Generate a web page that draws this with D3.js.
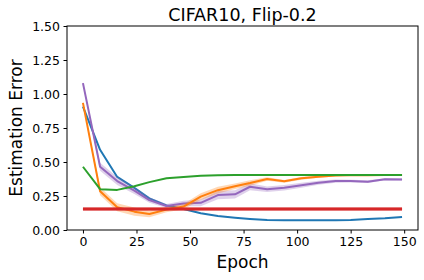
<!DOCTYPE html>
<html>
<head>
<meta charset="utf-8">
<script src="https://cdn.jsdelivr.net/npm/d3@7"></script>
<style>
  body { margin: 0; background: #fff; }
  text { font-family: "DejaVu Sans", sans-serif; fill: #000; }
</style>
</head>
<body>
<svg id="j-svg" width="424" height="280" viewBox="0 0 424 280"></svg>
<script>
'use strict';

var epochs = [0, 8, 16, 24, 31, 39, 47, 55, 63, 71, 78, 86, 94, 102, 110, 118, 125, 133, 141, 149];

var blueVals = [0.907, 0.59, 0.39, 0.31, 0.233, 0.18, 0.154, 0.123, 0.103, 0.09, 0.081, 0.073, 0.072, 0.072, 0.072, 0.072, 0.073, 0.08, 0.086, 0.095];
var orangeVals = [0.935, 0.285, 0.167, 0.135, 0.118, 0.15, 0.172, 0.245, 0.293, 0.322, 0.345, 0.375, 0.358, 0.38, 0.392, 0.40, 0.403, 0.403, 0.404, 0.404];
var greenVals = [0.465, 0.30, 0.295, 0.322, 0.352, 0.38, 0.39, 0.398, 0.402, 0.404, 0.405, 0.405, 0.405, 0.405, 0.405, 0.405, 0.405, 0.405, 0.405, 0.405];
var redVals = [0.155, 0.155, 0.155, 0.155, 0.155, 0.155, 0.155, 0.155, 0.155, 0.155, 0.155, 0.155, 0.155, 0.155, 0.155, 0.155, 0.155, 0.155, 0.155, 0.155];
var purpleVals = [1.08, 0.465, 0.36, 0.29, 0.22, 0.176, 0.195, 0.20, 0.257, 0.262, 0.318, 0.30, 0.311, 0.329, 0.348, 0.36, 0.36, 0.355, 0.373, 0.372];

// spread (std) drawn as light bands
var orangeStd = [0.01, 0.03, 0.03, 0.03, 0.025, 0.02, 0.02, 0.025, 0.025, 0.02, 0.02, 0.012, 0.01, 0.01, 0.008, 0.006, 0.005, 0.005, 0.005, 0.005];
var purpleStd = [0.01, 0.03, 0.03, 0.025, 0.02, 0.015, 0.02, 0.025, 0.03, 0.03, 0.025, 0.02, 0.02, 0.018, 0.015, 0.012, 0.01, 0.01, 0.008, 0.008];
var redStd = [0.013, 0.013, 0.013, 0.013, 0.013, 0.013, 0.013, 0.013, 0.013, 0.013, 0.013, 0.013, 0.013, 0.013, 0.013, 0.013, 0.013, 0.013, 0.013, 0.013];

var xTicks = [0, 25, 50, 75, 100, 125, 150];
var yTicks = [0, 0.25, 0.5, 0.75, 1.0, 1.25, 1.5];

var series = [
  { vals: blueVals, std: null, color: '#1f77b4', w: 2 },
  { vals: purpleVals, std: purpleStd, color: '#9467bd', w: 2 },
  { vals: orangeVals, std: orangeStd, color: '#ff7f0e', w: 2 },
  { vals: greenVals, std: null, color: '#2ca02c', w: 2 },
  { vals: redVals, std: redStd, color: '#d62728', w: 3 }
];

var svg = d3.select('#j-svg');
var margins = { top: 26, right: 6, bottom: 50, left: 67 };
var width = 424 - margins.left - margins.right;
var height = 280 - margins.top - margins.bottom;

var g = svg.append('g').attr('transform', 'translate(' + margins.left + ',' + margins.top + ')');

var x = d3.scaleLinear().domain([-7.45, 156.45]).range([0, width]);
var y = d3.scaleLinear().domain([0, 1.5]).range([height, 0]);

var clip = svg.append('defs').append('clipPath').attr('id', 'plot-clip');
clip.append('rect').attr('width', width).attr('height', height);

var plot = g.append('g').attr('clip-path', 'url(#plot-clip)');

series.forEach(function (s) {
  if (s.std) {
    var area = d3.area()
      .x(function (d, i) { return x(epochs[i]); })
      .y0(function (d, i) { return y(d - s.std[i]); })
      .y1(function (d, i) { return y(d + s.std[i]); });
    plot.append('path').attr('d', area(s.vals))
      .attr('fill', s.color).attr('fill-opacity', 0.3);
  }
  var line = d3.line()
    .x(function (d, i) { return x(epochs[i]); })
    .y(function (d) { return y(d); });
  plot.append('path').attr('d', line(s.vals))
    .attr('fill', 'none').attr('stroke', s.color)
    .attr('stroke-width', s.w).attr('stroke-linejoin', 'round');
});

var xAxis = d3.axisBottom(x).tickValues(xTicks).tickSize(3.5).tickPadding(3.5);
var yAxis = d3.axisLeft(y).tickValues(yTicks).tickSize(3.5).tickPadding(3.5).tickFormat(d3.format('.2f'));

var gx = g.append('g').attr('transform', 'translate(0,' + height + ')').call(xAxis);
var gy = g.append('g').call(yAxis);
[gx, gy].forEach(function (a) {
  a.select('.domain').remove();
  a.selectAll('text').style('font-size', '12.5px').style('font-family', '"DejaVu Sans", sans-serif');
  a.selectAll('line').attr('stroke', '#000');
});

g.append('rect').attr('width', width).attr('height', height)
  .attr('fill', 'none').attr('stroke', '#000').attr('stroke-width', 1);

svg.append('text').attr('x', margins.left + width / 2).attr('y', 20.5)
  .attr('text-anchor', 'middle').style('font-size', '17.5px').text('CIFAR10, Flip-0.2');

svg.append('text').attr('x', margins.left + width / 2).attr('y', 268)
  .attr('text-anchor', 'middle').style('font-size', '17px').text('Epoch');

svg.append('text').attr('transform', 'translate(21.5,' + (margins.top + height / 2) + ') rotate(-90)')
  .attr('text-anchor', 'middle').style('font-size', '17px').text('Estimation Error');
</script>
</body>
</html>
